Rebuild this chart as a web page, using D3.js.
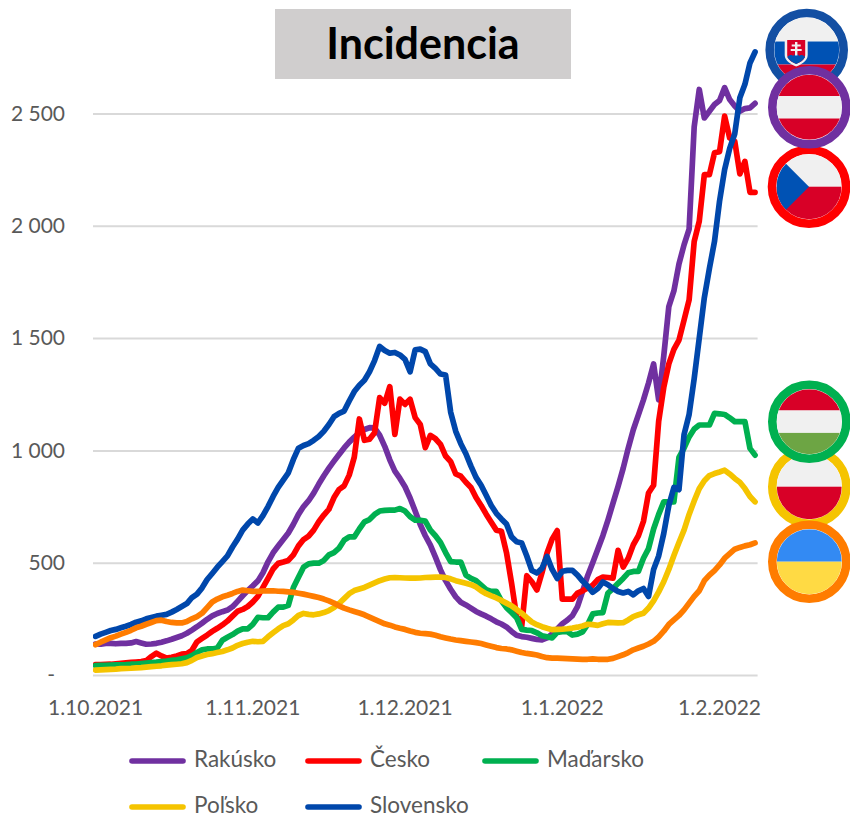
<!DOCTYPE html>
<html lang="sk">
<head>
    <meta charset="utf-8">
    <script src="https://d3js.org/d3.v7.min.js"></script>
    <style>
        body { margin: 0; background: #fff; }
        text { font-family: Lato, "Noto Sans", sans-serif; fill: #595959; }
    </style>
</head>
<body>

<div id="my_dataviz"></div>

<script>

// daily values, 1.10.2021 - 8.2.2022 (10 per row)
const rakusko = [
    138,137,141,141,139,141,141,143,149,143,
    137,138,141,146,152,159,167,175,186,200,
    215,231,248,263,274,282,289,304,328,353,
    376,397,419,455,504,544,574,603,632,671,
    715,750,776,810,850,887,921,952,982,1011,
    1037,1059,1079,1093,1101,1100,1068,1018,958,908,
    875,838,788,730,670,620,578,525,468,420,
    382,348,324,312,298,283,272,262,250,237,
    227,214,194,177,171,168,163,158,156,165,
    183,205,228,244,264,304,372,442,500,560,
    620,690,765,840,920,1010,1092,1158,1225,1300,
    1385,1225,1420,1640,1710,1830,1915,1985,2440,2607,
    2480,2510,2540,2558,2615,2562,2533,2510,2522,2525,
    2545
];
const cesko = [
    46,46,47,48,50,52,54,56,58,60,
    64,82,97,85,75,79,85,93,95,110,
    148,163,178,194,208,223,240,262,284,292,
    305,325,350,390,430,472,497,503,510,535,
    575,603,618,645,682,712,738,790,826,842,
    890,970,1140,1045,1050,1079,1235,1210,1284,1071,
    1228,1205,1228,1146,1116,1012,1067,1052,1027,975,
    950,895,885,858,835,790,755,716,680,645,
    640,545,410,260,216,442,415,379,455,543,
    605,643,338,338,338,365,375,387,400,425,
    436,434,431,555,481,520,580,620,684,810,
    845,1130,1280,1385,1450,1491,1580,1670,1930,2020,
    2228,2228,2325,2330,2488,2391,2376,2231,2287,2149,
    2149
];
const madarsko = [
    42,43,43,44,45,45,46,48,49,51,
    53,55,57,60,62,65,68,72,76,86,
    100,112,116,116,120,155,168,180,195,205,
    205,225,257,255,255,280,302,302,310,390,
    435,480,495,498,498,510,535,545,565,600,
    615,615,650,682,692,715,730,733,734,734,
    741,730,705,689,689,685,645,620,590,545,
    505,503,503,445,430,420,400,380,372,372,
    330,300,278,255,203,200,198,188,175,170,
    165,190,193,193,178,182,192,225,272,276,
    278,365,385,408,430,455,461,461,520,563,
    650,715,771,771,771,969,1010,1060,1095,1113,
    1113,1113,1165,1163,1160,1145,1128,1128,1128,1009,
    979
];
const polsko = [
    22,23,24,25,26,28,29,30,32,33,
    35,37,39,41,44,46,48,50,55,65,
    78,85,91,95,100,105,112,120,132,140,
    146,150,148,150,170,188,205,220,228,245,
    265,274,270,268,272,278,287,300,318,340,
    362,376,383,390,400,410,420,427,433,434,
    433,432,431,431,432,434,435,436,436,434,
    428,420,414,408,402,392,375,362,352,343,
    332,320,308,292,275,255,236,224,215,208,
    202,203,204,206,209,213,218,226,224,221,
    228,234,233,232,233,245,260,268,275,298,
    330,370,415,470,532,590,645,715,775,830,
    865,888,897,904,912,895,875,858,830,795,
    771
];
const slovensko = [
    172,182,190,198,203,210,217,225,235,241,
    250,256,262,266,270,280,292,305,318,345,
    360,388,425,452,480,505,530,570,605,645,
    672,695,677,710,750,795,835,868,900,960,
    1010,1022,1030,1045,1062,1085,1115,1150,1165,1175,
    1220,1262,1290,1312,1350,1400,1463,1445,1433,1436,
    1425,1405,1350,1448,1451,1440,1385,1365,1340,1336,
    1170,1085,1030,985,930,880,845,800,755,720,
    695,672,615,593,588,530,465,454,475,528,
    470,430,462,466,466,445,418,395,368,385,
    414,402,385,372,365,372,357,375,385,350,
    470,530,630,755,835,825,1070,1160,1320,1500,
    1680,1810,1930,2110,2250,2345,2410,2570,2630,2725,
    2774
];
const ukrajina = [
    135,146,156,166,173,182,190,199,210,217,
    226,234,242,244,238,234,232,232,238,250,
    260,275,300,325,338,348,355,363,372,378,
    375,372,372,374,375,375,373,372,370,368,
    364,360,355,350,345,338,330,320,308,298,
    290,283,276,268,258,248,238,228,222,214,
    208,203,196,190,186,184,182,177,170,165,
    160,156,153,150,147,144,140,134,128,122,
    118,116,112,106,100,96,93,89,82,77,
    75,75,74,73,72,71,70,70,72,70,
    70,70,74,82,90,100,112,120,128,138,
    150,170,195,225,245,265,290,320,350,375,
    420,445,465,490,520,540,560,568,575,580,
    588
];

const yTicks = [0, 500, 1000, 1500, 2000, 2500];
const dates = d3.timeDay.range(new Date(2021, 9, 1), new Date(2022, 1, 9));

const series = [
    { name: "Rakúsko", values: rakusko, color: "#7030a0" },
    { name: "Česko", values: cesko, color: "#ff0000" },
    { name: "Maďarsko", values: madarsko, color: "#00b050" },
    { name: "Poľsko", values: polsko, color: "#f5c400" },
    { name: "Slovensko", values: slovensko, color: "#0047ab" },
    { name: "Ukrajina", values: ukrajina, color: "#ff7c00" }
];

const width = 850;
const height = 817;
const labelSize = "21px";

const svg = d3.select("#my_dataviz").append("svg")
    .attr("width", width)
    .attr("height", height)
    .style("display", "block");

// title box
svg.append("rect")
    .attr("x", 275).attr("y", 9)
    .attr("width", 296).attr("height", 70)
    .attr("fill", "#d0cece");
svg.append("text")
    .attr("x", 423).attr("y", 58.5)
    .attr("text-anchor", "middle")
    .style("font-size", "43px")
    .style("font-weight", 700)
    .style("fill", "#000")
    .text("Incidencia");

const x = d3.scaleBand().domain(dates).range([93, 757.6]);
const y = d3.scaleLinear().domain([0, 2500]).range([675, 113.5]);

// y axis and gridlines
const yAxis = svg.append("g")
    .attr("transform", "translate(93,0)")
    .call(d3.axisLeft(y)
        .tickValues(yTicks)
        .tickSize(-664.6)
        .tickPadding(28)
        .tickFormat(d => d === 0 ? "-" : d3.format(",")(d).replace(",", " ")));
yAxis.select(".domain").remove();
yAxis.selectAll("line").attr("stroke", "#d9d9d9").attr("stroke-width", 2);
yAxis.selectAll("text")
    .style("font-size", labelSize)
    .attr("x", d => d === 0 ? -38 : -28);

// x axis
const xAxis = svg.append("g")
    .attr("transform", "translate(0,675)")
    .call(d3.axisBottom(x)
        .tickValues(dates.filter(d => d.getDate() === 1))
        .tickSize(0)
        .tickPadding(25)
        .tickFormat(d3.timeFormat("%-d.%-m.%Y")));
xAxis.select(".domain").remove();
xAxis.selectAll("text").style("font-size", labelSize);

// lines, cut flat at the left edge of the plot
svg.append("clipPath").attr("id", "plot")
    .append("rect").attr("x", 93).attr("y", 0).attr("width", 680).attr("height", 690);

const line = d3.line()
    .x((d, i) => x(dates[i]) + x.bandwidth() / 2)
    .y(d => y(d));

svg.append("g")
    .attr("clip-path", "url(#plot)")
    .selectAll("path")
    .data(series)
    .enter().append("path")
    .attr("d", d => line(d.values))
    .attr("fill", "none")
    .attr("stroke", d => d.color)
    .attr("stroke-width", 5.7)
    .attr("stroke-linejoin", "round")
    .attr("stroke-linecap", "round");

// legend
const legendItems = [
    { s: series[0], x: 129, y: 761 },
    { s: series[1], x: 305, y: 761 },
    { s: series[2], x: 482, y: 761 },
    { s: series[3], x: 129, y: 807 },
    { s: series[4], x: 305, y: 807 }
];
const legend = svg.append("g")
    .selectAll("g")
    .data(legendItems)
    .enter().append("g")
    .attr("transform", d => `translate(${d.x},${d.y})`);
legend.append("line")
    .attr("x1", 3).attr("x2", 54)
    .attr("stroke", d => d.s.color)
    .attr("stroke-width", 5.6)
    .attr("stroke-linecap", "round");
legend.append("text")
    .attr("x", 65).attr("dy", "0.25em")
    .style("font-size", "22.5px")
    .text(d => d.s.name);

// flags
const RED = "#d80027", WHITE = "#f0f0f0", BLUE = "#0052b4";

function flag(cx, cy, ringColor, id, draw) {
    const r = 32.5;
    const g = svg.append("g").attr("transform", `translate(${cx},${cy})`);
    g.append("circle").attr("r", 37).attr("fill", "#fff")
        .attr("stroke", ringColor).attr("stroke-width", 8.6);
    g.append("clipPath").attr("id", id).append("circle").attr("r", r);
    const inner = g.append("g").attr("clip-path", `url(#${id})`);
    const stripe = (top, bottom, color) => inner.append("rect")
        .attr("x", -r).attr("width", 2 * r)
        .attr("y", top).attr("height", bottom - top)
        .attr("fill", color);
    draw(inner, stripe, r);
}

flag(806.7, 50, "#134fa3", "f-sk", (g, stripe, r) => {
    stripe(-r, -8.5, WHITE);
    stripe(-8.5, 14.5, BLUE);
    stripe(14.5, r, RED);
    const sh = g.append("g").attr("transform", "translate(-10.5,0)");
    sh.append("path")
        .attr("d", "M-11.5,-12.5 H11.5 V5 C11.5,11 5,14.5 0,16.5 C-5,14.5 -11.5,11 -11.5,5 Z")
        .attr("fill", WHITE);
    sh.append("path")
        .attr("d", "M-9,-10 H9 V5 C9,9.5 4,12.5 0,14 C-4,12.5 -9,9.5 -9,5 Z")
        .attr("fill", RED);
    sh.append("path")
        .attr("d", "M-9,7 C-6,4 -4,5 -3,6 C-2,3.5 2,3.5 3,6 C4,5 6,4 9,7 C7,10.5 3.5,12.5 0,14 C-3.5,12.5 -7,10.5 -9,7 Z")
        .attr("fill", BLUE);
    sh.append("path")
        .attr("d", "M-1.2,-8 H1.2 V-5.5 H4.5 V-3.5 H1.2 V-1 H5.5 V1 H1.2 V5.5 H-1.2 V1 H-5.5 V-1 H-1.2 V-3.5 H-4.5 V-5.5 H-1.2 Z")
        .attr("fill", WHITE);
});

flag(809, 186.7, "#ff0000", "f-cz", (g, stripe, r) => {
    stripe(-r, 0, WHITE);
    stripe(0, r, RED);
    g.append("path").attr("d", `M-${r},-${r} L0,0 L-${r},${r} Z`).attr("fill", BLUE);
});

flag(809.3, 107.3, "#7030a0", "f-at", (g, stripe, r) => {
    stripe(-r, -11.2, RED);
    stripe(-11.2, 11.2, WHITE);
    stripe(11.2, r, RED);
});

flag(809.3, 486.7, "#f5c400", "f-pl", (g, stripe, r) => {
    stripe(-r, 0, WHITE);
    stripe(0, r, RED);
});

flag(809.3, 421.7, "#00b050", "f-hu", (g, stripe, r) => {
    stripe(-r, -11.2, RED);
    stripe(-11.2, 11.2, WHITE);
    stripe(11.2, r, "#6da544");
});

flag(809.3, 561.7, "#ff7c00", "f-ua", (g, stripe, r) => {
    stripe(-r, 0, "#338af3");
    stripe(0, r, "#ffda44");
});

</script>
</body>
</html>
